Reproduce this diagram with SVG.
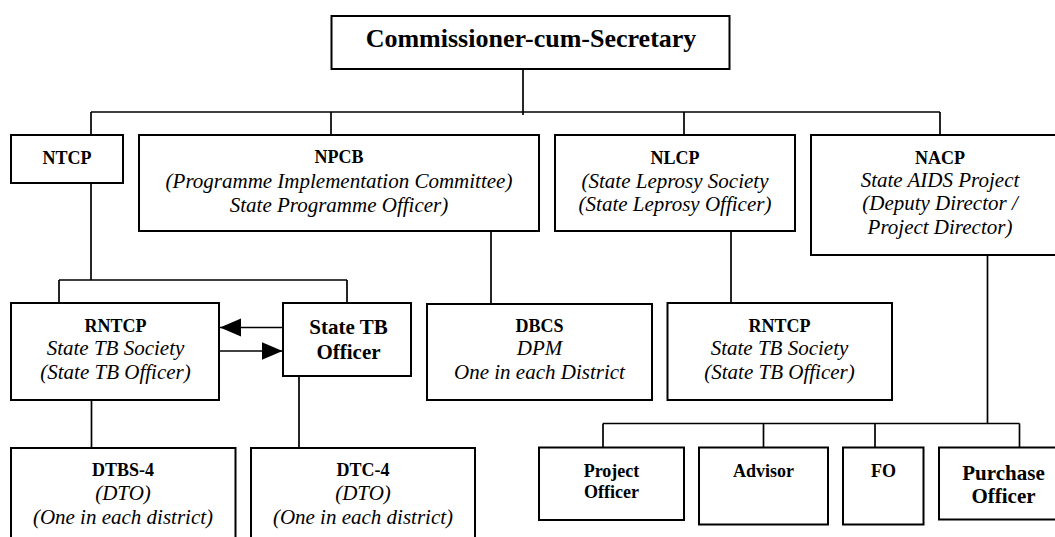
<svg xmlns="http://www.w3.org/2000/svg" width="1055" height="537" viewBox="0 0 1055 537" font-family="Liberation Serif, Times New Roman, serif">
<style>
.box{fill:#fff;stroke:#000;stroke-width:2}
.ln{fill:none;stroke:#000;stroke-width:1.7}
text{fill:#000;text-anchor:middle}
.h{font-weight:bold;font-size:18px}
.hb{font-weight:bold;font-size:21px}
.t{font-weight:bold;font-size:26px}
.i{font-style:italic;font-size:21px}
</style>
<defs>
<marker id="ah" markerUnits="userSpaceOnUse" markerWidth="22" markerHeight="20" refX="21" refY="9" orient="auto">
<path d="M0,0 L21,9 L0,18 Z" fill="#000"/>
</marker>
</defs>
<rect width="1055" height="537" fill="#fff"/>
<g id="connectors">
<path class="ln" d="M523,69 V115"/>
<path class="ln" d="M91,112 H940"/>
<path class="ln" d="M91,112 V135 M331,112 V135 M684,112 V135 M940,112 V135"/>
<path class="ln" d="M91,183 V280 M59,280 H347 M59,280 V303 M347,280 V303"/>
<path class="ln" d="M283,327.5 H220" marker-end="url(#ah)"/>
<path class="ln" d="M220,351 H282.5" marker-end="url(#ah)"/>
<path class="ln" d="M91.5,400 V448 M299,376 V448"/>
<path class="ln" d="M491,231 V304 M731,231 V303"/>
<path class="ln" d="M987.5,255 V423.5 M603,423.5 H1019.5 M603,423.5 V447.5 M763.5,423.5 V447.5 M875,423.5 V447.5 M1019.5,423.5 V447.5"/>
</g>
<g id="commissioner">
<rect class="box" x="331.5" y="16" width="398" height="53"/>
<text class="t" x="531" y="47">Commissioner-cum-Secretary</text>
</g>
<g id="ntcp">
<rect class="box" x="11" y="135" width="112" height="48"/>
<text class="h" x="67" y="164">NTCP</text>
</g>
<g id="npcb">
<rect class="box" x="139" y="135" width="400" height="96"/>
<text class="h" x="339" y="163">NPCB</text>
<text class="i" x="339" y="188">(Programme Implementation Committee)</text>
<text class="i" x="339" y="211.5">State Programme Officer)</text>
</g>
<g id="nlcp">
<rect class="box" x="555" y="135" width="240" height="96"/>
<text class="h" x="675" y="164">NLCP</text>
<text class="i" x="675" y="187.5">(State Leprosy Society</text>
<text class="i" x="675" y="210.5">(State Leprosy Officer)</text>
</g>
<g id="nacp">
<rect class="box" x="811" y="135" width="258" height="120"/>
<text class="h" x="940" y="163.5">NACP</text>
<text class="i" x="940" y="186.5">State AIDS Project</text>
<text class="i" x="940" y="210">(Deputy Director /</text>
<text class="i" x="940" y="233.5">Project Director)</text>
</g>
<g id="rntcp1">
<rect class="box" x="11" y="303" width="208" height="97"/>
<text class="h" x="115.5" y="331.5">RNTCP</text>
<text class="i" x="115.5" y="355">State TB Society</text>
<text class="i" x="115.5" y="378.5">(State TB Officer)</text>
</g>
<g id="statetb">
<rect class="box" x="283" y="303" width="128" height="73"/>
<text class="hb" x="348.5" y="333.5">State TB</text>
<text class="hb" x="348.5" y="358.5">Officer</text>
</g>
<g id="dbcs">
<rect class="box" x="427" y="304" width="225" height="96"/>
<text class="h" x="539.5" y="331.5">DBCS</text>
<text class="i" x="539.5" y="354.5">DPM</text>
<text class="i" x="539.5" y="379">One in each District</text>
</g>
<g id="rntcp2">
<rect class="box" x="667.5" y="303" width="224.5" height="97"/>
<text class="h" x="779.5" y="331.5">RNTCP</text>
<text class="i" x="779.5" y="355">State TB Society</text>
<text class="i" x="779.5" y="378.5">(State TB Officer)</text>
</g>
<g id="dtbs4">
<rect class="box" x="11" y="448" width="224.5" height="100"/>
<text class="h" x="123" y="476">DTBS-4</text>
<text class="i" x="123" y="500">(DTO)</text>
<text class="i" x="123" y="523.5">(One in each district)</text>
</g>
<g id="dtc4">
<rect class="box" x="251" y="448" width="224" height="100"/>
<text class="h" x="363" y="476">DTC-4</text>
<text class="i" x="363" y="500">(DTO)</text>
<text class="i" x="363" y="523.5">(One in each district)</text>
</g>
<g id="projectofficer">
<rect class="box" x="539" y="447.5" width="145" height="72.5"/>
<text class="h" x="611.5" y="476.5">Project</text>
<text class="h" x="611.5" y="497.5">Officer</text>
</g>
<g id="advisor">
<rect class="box" x="699" y="447.5" width="129" height="77"/>
<text class="h" x="763.5" y="476.5">Advisor</text>
</g>
<g id="fo">
<rect class="box" x="843" y="447.5" width="80.5" height="77"/>
<text class="h" x="883.5" y="476.5">FO</text>
</g>
<g id="purchaseofficer">
<rect class="box" x="939" y="447.5" width="130" height="72"/>
<text class="hb" x="1003.5" y="480">Purchase</text>
<text class="hb" x="1003.5" y="503">Officer</text>
</g>
</svg>
